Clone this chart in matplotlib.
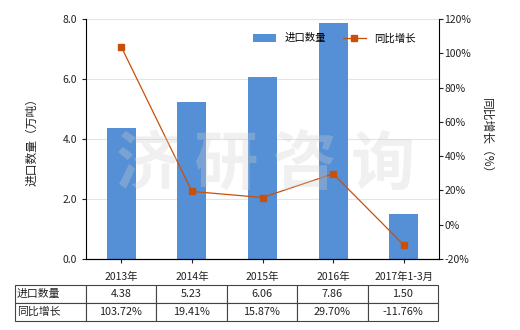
import matplotlib
matplotlib.use('Agg')
import matplotlib.pyplot as plt
import numpy as np

plt.rcParams['font.family'] = ['Noto Sans CJK SC', 'DejaVu Sans']

categories = ['2013年', '2014年', '2015年', '2016年', '2017年1-3月']
import_qty = [4.38, 5.23, 6.06, 7.86, 1.50]
yoy_growth = [103.72, 19.41, 15.87, 29.70, -11.76]
row_labels = ['进口数量', '同比增长']

bar_color = '#5590D6'
line_color = '#C8500A'
txt_color = '#222222'

fig = plt.figure(figsize=(5.2, 3.3), dpi=100)
ax = fig.add_axes([86/520, 1 - 259/330, 353/520, 240/330])
x = np.arange(len(categories))

ax.bar(x, import_qty, width=0.41, color=bar_color, label='进口数量', zorder=2)
ax.set_ylim(0, 8)
ax.set_xlim(-0.5, len(categories) - 0.5)
ax.set_yticks([0, 2, 4, 6, 8])
ax.set_yticklabels([f'{v:.1f}' for v in [0, 2, 4, 6, 8]])
ax.yaxis.grid(True, color='#e4e4e0', linewidth=0.8, zorder=0)
ax.set_axisbelow(True)
ax.set_xticks(x)
ax.set_xticklabels(categories)
ax.tick_params(axis='both', labelsize=7.5, colors=txt_color, length=3, width=0.8)
ax.tick_params(axis='x', pad=6)
ax.spines['top'].set_visible(False)
ax.spines['right'].set_visible(False)
ax.set_ylabel('进口数量（万吨）', fontsize=8.5, color=txt_color, labelpad=17)

ax2 = ax.twinx()
ax2.plot(x, yoy_growth, color=line_color, linewidth=0.9, marker='s', markersize=4.5,
         label='同比增长', zorder=3)
ax2.set_ylim(-20, 120)
ax2.set_yticks(range(-20, 121, 20))
ax2.set_yticklabels([f'{v}%' for v in range(-20, 121, 20)])
ax2.tick_params(axis='y', labelsize=7.5, colors=txt_color, length=3, width=0.8, pad=1)
ax2.spines['top'].set_visible(False)
ax2.spines['left'].set_visible(False)
ax2.set_ylabel('同比增长（%）', fontsize=8.5, color=txt_color, rotation=270, labelpad=16)

# watermark
fig.text(0.51, 0.5, '济 研 咨 询', fontsize=46, color='#d0d0d0', alpha=0.3,
         ha='center', va='center', fontweight='bold', zorder=10)

h1, l1 = ax.get_legend_handles_labels()
h2, l2 = ax2.get_legend_handles_labels()
ax2.legend(h1 + h2, l1 + l2, loc='upper right', bbox_to_anchor=(0.96, 0.98), ncol=2,
           frameon=False, fontsize=7.5, handlelength=2.2, columnspacing=1.6,
           handleheight=0.9)

cell_text = [[row_labels[0]] + [f'{v:.2f}' for v in import_qty],
             [row_labels[1]] + [f'{v:.2f}%' for v in yoy_growth]]
tbl = ax.table(cellText=cell_text, cellLoc='center',
               bbox=[-71/353, -62/240, (438 - 15)/353, 36/240])
tbl.auto_set_font_size(False)
tbl.set_fontsize(7.8)
for (r, c), cell in tbl.get_celld().items():
    cell.set_edgecolor('#444444')
    cell.set_linewidth(0.8)
    cell.get_text().set_color(txt_color)
    if c == 0:
        cell.get_text().set_horizontalalignment('left')
        cell.PAD = 0.03

fig.savefig('out.png', dpi=100)
